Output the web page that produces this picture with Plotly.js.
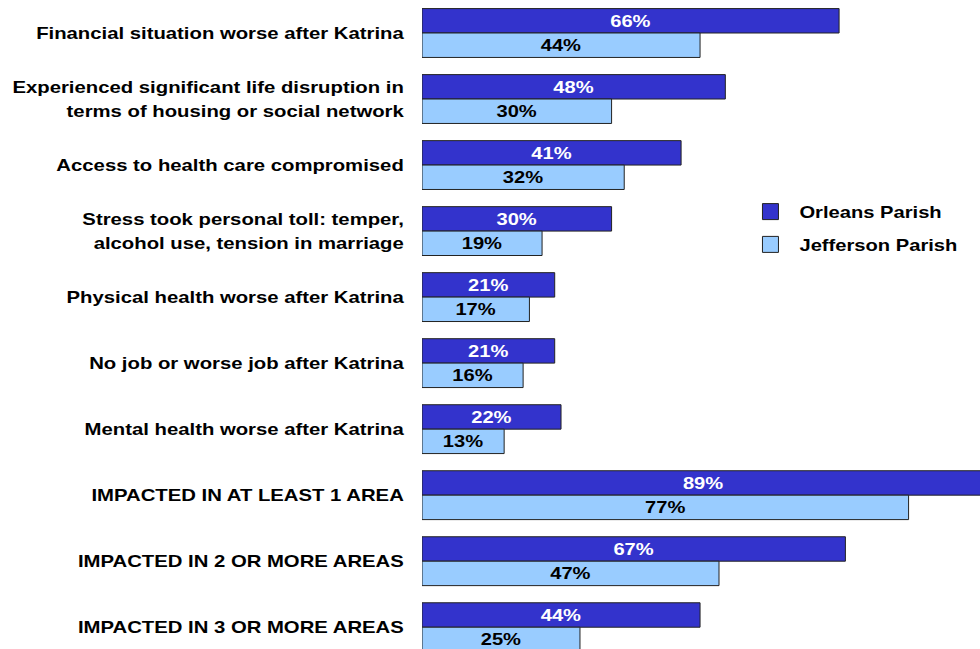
<!DOCTYPE html>
<html><head><meta charset="utf-8">
<script src="https://cdn.plot.ly/plotly-3.0.1.min.js"></script>
<style>
html,body{margin:0;padding:0;background:#fff}
#c{width:980px;height:649px}
</style>
</head><body><div id="c"></div>
<script>
const categories = [
  "Financial situation worse after Katrina",
  "Experienced significant life disruption in<br>terms of housing or social network",
  "Access to health care compromised",
  "Stress took personal toll: temper,<br>alcohol use, tension in marriage",
  "Physical health worse after Katrina",
  "No job or worse job after Katrina",
  "Mental health worse after Katrina",
  "IMPACTED IN AT LEAST 1 AREA",
  "IMPACTED IN 2 OR MORE AREAS",
  "IMPACTED IN 3 OR MORE AREAS"
];
const orleans = [66, 48, 41, 30, 21, 21, 22, 89, 67, 44];
const jefferson = [44, 30, 32, 19, 17, 16, 13, 77, 47, 25];
const seriesNames = ["Orleans Parish", "Jefferson Parish"];
const colors = ["#3333CC", "#99CCFF"];
const textColors = ["#FFFFFF", "#000000"];

const font = "Arial, 'Liberation Sans', sans-serif";
const series = [orleans, jefferson];
const traces = [];
series.forEach((vals, i) => {
  traces.push({
    type: "bar", orientation: "h",
    x: vals, y: categories,
    name: seriesNames[i], showlegend: false,
    marker: {color: colors[i], line: {color: "#222", width: 1}},
    text: vals.map(v => "<b>" + v + "%</b>"),
    textposition: "inside", insidetextanchor: "middle",
    textfont: {family: font, size: 16.5, color: textColors[i]},
    constraintext: "none",
    hoverinfo: "skip"
  });
});
series.forEach((vals, i) => {
  traces.push({
    type: "scatter", mode: "markers", x: [null], y: [null],
    name: "<b>" + seriesNames[i] + "</b>", legendgroup: "g" + i,
    marker: {symbol: "square", size: 16, color: colors[i], line: {color: "#222", width: 1}},
    hoverinfo: "skip"
  });
});

const layout = {
  width: 980, height: 649,
  margin: {l: 422, r: 0, t: 0, b: 0},
  paper_bgcolor: "#fff", plot_bgcolor: "#fff",
  barmode: "group", bargap: 0.26, bargroupgap: 0,
  font: {family: font, color: "#000"},
  xaxis: {range: [0, 88.3], showgrid: false, zeroline: false, showticklabels: false, showline: false, ticks: ""},
  yaxis: {type: "category", range: [9.33, -0.5], showgrid: false, showline: false, zeroline: false,
    ticks: "outside", ticklen: 14, tickcolor: "rgba(0,0,0,0)",
    tickfont: {family: font, size: 16, color: "#000"},
    tickvals: categories, ticktext: categories.map(c => "<b>" + c + "</b>")},
  legend: {x: 0.5725, y: 0.7, xanchor: "left", yanchor: "top", bgcolor: "rgba(0,0,0,0)",
    font: {family: font, size: 16, color: "#000"}, traceorder: "grouped", itemclick: false,
    tracegroupgap: 9, itemwidth: 48},
  showlegend: true
};

function stretch(el, sx, dy) {
  const x = parseFloat(el.getAttribute("x")) || 0;
  const cur = el.getAttribute("transform") || "";
  el.setAttribute("transform", cur + " translate(" + x + "," + (dy || 0) + ") scale(" + sx + ",1) translate(" + (-x) + ",0)");
}

Plotly.newPlot("c", traces, layout, {displayModeBar: false, staticPlot: true}).then(gd => {
  gd.querySelectorAll(".ytick text").forEach(t => {
    const lines = t.querySelectorAll("tspan.line");
    let dy = 0;
    if (lines.length > 1) {
      lines.forEach(l => { if (l.getAttribute("dy") === "1.3em") l.setAttribute("dy", "1.5em"); });
      dy = -1.6 * (lines.length - 1);
    }
    stretch(t, 1.27, dy);
  });
  gd.querySelectorAll(".legendtext").forEach(t => stretch(t, 1.26, 0));
  gd.querySelectorAll(".bartext").forEach(t => stretch(t, 1.22, 0));
  gd.querySelectorAll(".legend [clip-path]").forEach(e => e.removeAttribute("clip-path"));
});
</script></body></html>
